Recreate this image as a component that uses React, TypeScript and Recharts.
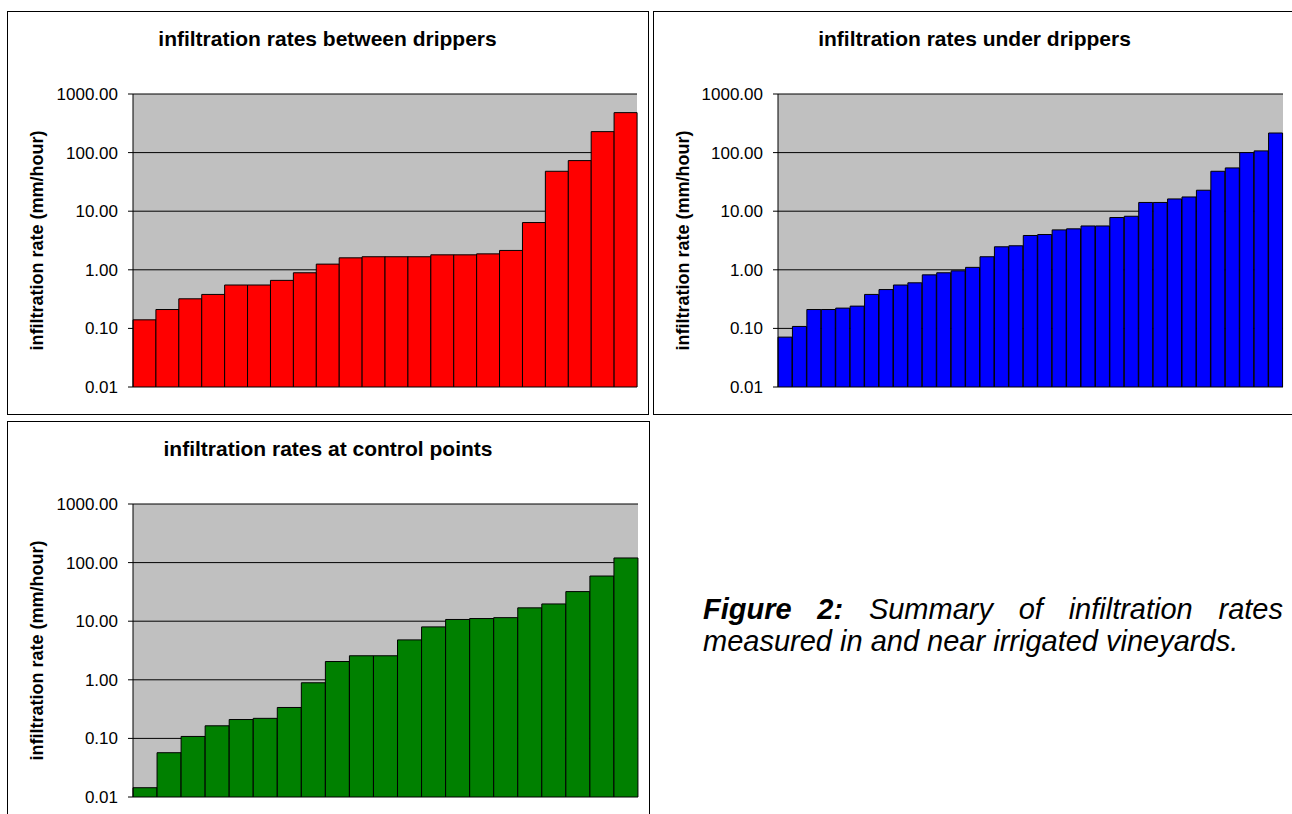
import React from 'react';
import { BarChart, Bar, XAxis, YAxis, CartesianGrid } from 'recharts';

const FONT = '"Liberation Sans", Arial, Helvetica, sans-serif';

// infiltration rates (mm/hour), sorted ascending as in the figure
const betweenDrippers = [0.14, 0.21, 0.32, 0.38, 0.55, 0.55, 0.66, 0.89, 1.25, 1.6, 1.67, 1.67, 1.67, 1.8, 1.8, 1.87, 2.14, 6.4, 48, 73, 228, 481];
const underDrippers = [0.071, 0.108, 0.21, 0.21, 0.222, 0.24, 0.38, 0.46, 0.55, 0.6, 0.82, 0.89, 0.96, 1.1, 1.67, 2.47, 2.57, 3.85, 4.0, 4.8, 5.0, 5.6, 5.6, 7.8, 8.2, 14.1, 14.1, 16.2, 17.5, 22.8, 48, 54.8, 100, 107, 216];
const controlPoints = [0.0144, 0.057, 0.108, 0.164, 0.21, 0.22, 0.337, 0.89, 2.05, 2.57, 2.57, 4.8, 8.0, 10.7, 11.1, 11.5, 16.9, 19.7, 32, 59, 120];

const yTicks = [0.01, 0.1, 1, 10, 100, 1000];
const chartTitles = [
  'infiltration rates between drippers',
  'infiltration rates under drippers',
  'infiltration rates at control points',
];
const yAxisTitle = 'infiltration rate (mm/hour)';
const captionBold = 'Figure 2:';
const captionLine1 = 'Summary of infiltration rates';
const captionLine2 = 'measured in and near irrigated vineyards.';

const toRows = (values: number[]) => values.map((v, i) => ({ name: String(i + 1), value: v }));

type ChartProps = {
  values: number[];
  color: string;
  title: string;
  left: number;
  top: number;
  width: number;
  height: number;
  frameW: number;
  frameH: number;
  axisWidth: number;
  margin: { top: number; right: number; bottom: number; left: number };
};

function RateChart(p: ChartProps) {
  const data = toRows(p.values);
  return (
    <>
      <div
        style={{
          position: 'absolute',
          left: p.left,
          top: p.top,
          width: p.frameW,
          height: p.frameH,
          border: '1px solid #000',
          boxSizing: 'border-box',
          background: '#fff',
        }}
      />
      <div
        style={{
          position: 'absolute',
          left: p.left,
          top: p.top + 16,
          width: p.width,
          textAlign: 'center',
          fontFamily: FONT,
          fontWeight: 'bold',
          fontSize: 21,
          lineHeight: '24px',
          color: '#000',
          whiteSpace: 'nowrap',
        }}
      >
        {p.title}
      </div>
      <div style={{ position: 'absolute', left: p.left, top: p.top }}>
        <BarChart width={p.width} height={p.height} data={data} margin={p.margin} barCategoryGap={0} barGap={0}>
          <CartesianGrid vertical={false} stroke="#000" fill="#C0C0C0" fillOpacity={1} />
          <Bar dataKey="value" fill={p.color} stroke="#000" strokeWidth={1} isAnimationActive={false} />
          <XAxis dataKey="name" tick={false} tickLine={false} axisLine={{ stroke: '#000' }} height={0} />
          <XAxis
            xAxisId="top"
            dataKey="name"
            orientation="top"
            tick={false}
            tickLine={false}
            axisLine={{ stroke: '#808080' }}
            height={0}
          />
          <YAxis
            type="number"
            scale="log"
            domain={[0.01, 1000]}
            allowDataOverflow
            ticks={yTicks}
            interval={0}
            tickFormatter={(v: number) => v.toFixed(2)}
            width={p.axisWidth}
            tickSize={5}
            tickMargin={10}
            tick={{ fill: '#000', fontSize: 17, fontFamily: FONT }}
            axisLine={{ stroke: '#000' }}
            tickLine={{ stroke: '#000' }}
            label={{
              value: yAxisTitle,
              angle: -90,
              position: 'insideLeft',
              offset: 30,
              style: { textAnchor: 'middle', fontWeight: 'bold', fontSize: 18, fill: '#000', fontFamily: FONT },
            }}
          />
          <YAxis
            yAxisId="right"
            orientation="right"
            width={0}
            tick={false}
            tickLine={false}
            axisLine={{ stroke: '#808080' }}
          />
        </BarChart>
      </div>
    </>
  );
}

export default function App() {
  const captionStyle: React.CSSProperties = {
    position: 'absolute',
    left: 703,
    width: 580,
    fontFamily: FONT,
    fontStyle: 'italic',
    fontSize: 29,
    lineHeight: '32px',
    color: '#000',
    whiteSpace: 'nowrap',
  };
  return (
    <div
      style={{
        position: 'absolute',
        left: 0,
        top: 0,
        width: 1292,
        height: 814,
        overflow: 'hidden',
        background: '#fff',
        fontFamily: FONT,
      }}
    >
      <RateChart
        values={betweenDrippers}
        color="#FF0000"
        title={chartTitles[0]}
        left={7}
        top={11}
        width={641}
        height={403}
        frameW={642}
        frameH={404}
        axisWidth={126}
        margin={{ top: 83, right: 11, bottom: 27, left: 0 }}
      />
      <RateChart
        values={underDrippers}
        color="#0000FF"
        title={chartTitles[1]}
        left={653}
        top={11}
        width={643}
        height={403}
        frameW={645}
        frameH={404}
        axisWidth={125}
        margin={{ top: 83, right: 13, bottom: 27, left: 0 }}
      />
      <RateChart
        values={controlPoints}
        color="#008000"
        title={chartTitles[2]}
        left={7}
        top={421}
        width={642}
        height={393}
        frameW={643}
        frameH={400}
        axisWidth={126}
        margin={{ top: 83, right: 11, bottom: 17, left: 0 }}
      />
      <div style={{ ...captionStyle, top: 593, display: 'flex', justifyContent: 'space-between' }}>
        {captionBold.split(' ').map((w) => (
          <b key={'b' + w}>{w}</b>
        ))}
        {captionLine1.split(' ').map((w) => (
          <span key={w}>{w}</span>
        ))}
      </div>
      <div style={{ ...captionStyle, top: 625 }}>{captionLine2}</div>
    </div>
  );
}
